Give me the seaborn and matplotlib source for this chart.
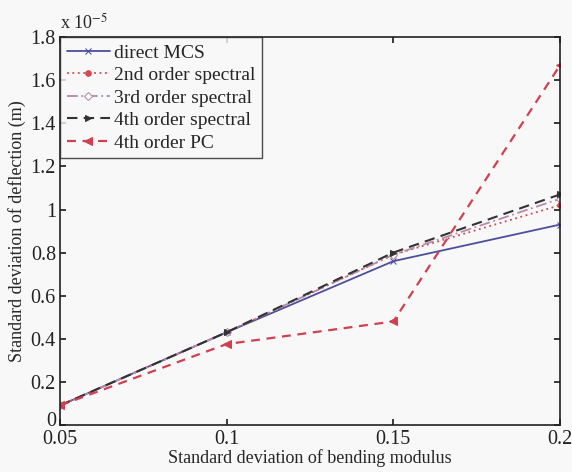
import matplotlib
matplotlib.use("Agg")
import matplotlib.pyplot as plt
import matplotlib.transforms as mtransforms
import seaborn as sns
import pandas as pd

sns.set_theme(style="white")
plt.rcParams['font.family'] = ['Liberation Serif', 'DejaVu Serif']
plt.rcParams['mathtext.fontset'] = 'stix'

x_vals = [0.05, 0.1, 0.15, 0.2]
direct_mcs = [0.09, 0.43, 0.76, 0.93]
second_order = [0.09, 0.43, 0.79, 1.02]
third_order = [0.09, 0.43, 0.79, 1.05]
fourth_order = [0.09, 0.43, 0.80, 1.07]
fourth_pc = [0.09, 0.375, 0.48, 1.67]

series_names = ["direct MCS", "2nd order spectral", "3rd order spectral",
                "4th order spectral", "4th order PC"]
series_values = [direct_mcs, second_order, third_order, fourth_order, fourth_pc]

styles = [
    dict(color="#4b4f9c", ls="-", marker="x", ms=4, mfc="#4b4f9c", lw=1.3),
    dict(color="#d04a50", ls=(0, (1, 2)), marker="o", ms=4, mfc="#d04a50", lw=1.3),
    dict(color="#b58aae", ls=(0, (6, 2, 1, 2)), marker="D", ms=4, mfc="white", lw=1.3),
    dict(color="#333333", ls=(0, (5, 3)), marker=">", ms=5, mfc="#333333", lw=1.5),
    dict(color="#d0404f", ls=(0, (4, 3)), marker="<", ms=6, mfc="#d0404f", lw=1.6),
]

fig = plt.figure(figsize=(5.72, 4.72), dpi=100)
fig.patch.set_facecolor("#f8f8f8")
ax = fig.add_axes([0.105, 0.10, 0.874, 0.821])
ax.set_facecolor("#f8f8f8")

for name, vals, st in zip(series_names, series_values, styles):
    df = pd.DataFrame({"x": x_vals, "y": vals})
    sns.lineplot(data=df, x="x", y="y", ax=ax, label=name, color=st["color"],
                 linestyle=st["ls"], marker=st["marker"], markersize=st["ms"],
                 markerfacecolor=st["mfc"], markeredgecolor=st["color"],
                 linewidth=st["lw"])

ax.set_xlim(0.05, 0.2)
ax.set_ylim(0, 1.8)
ax.set_xticks([0.05, 0.1, 0.15, 0.2])
ax.set_xticklabels(["0.05", "0.1", "0.15", "0.2"])
ax.set_yticks([0, 0.2, 0.4, 0.6, 0.8, 1.0, 1.2, 1.4, 1.6, 1.8])
ax.set_yticklabels(["0", "0.2", "0.4", "0.6", "0.8", "1", "1.2", "1.4", "1.6", "1.8"])
ax.tick_params(direction="in", length=4, labelsize=14.5, colors="#222222",
               top=True, right=True, bottom=True, left=True)
ax.tick_params(axis="x", pad=4)
ax.tick_params(axis="y", pad=3)
for sp in ax.spines.values():
    sp.set_color("#222222")
    sp.set_linewidth(1.2)

# nudge the "0" y tick label up slightly so it clears "0.05"
zero_lbl = ax.get_yticklabels()[0]
zero_lbl.set_transform(zero_lbl.get_transform() +
                       mtransforms.ScaledTranslation(0, 4 / 72, fig.dpi_scale_trans))

ax.set_xlabel("Standard deviation of bending modulus", fontsize=13, labelpad=0)
ax.set_ylabel("Standard deviation of deflection (m)", fontsize=13, labelpad=3)
ax.text(0.0, 1.012, r"x 10$^{-5}$", transform=ax.transAxes, fontsize=13,
        ha="left", va="bottom")

leg = ax.legend(loc="upper left", fontsize=14, frameon=True, fancybox=False,
                edgecolor="#222222", handlelength=2.2, handletextpad=0.2,
                borderpad=0.35, labelspacing=0.25, borderaxespad=0.0)
leg.get_frame().set_linewidth(1.0)
leg.get_frame().set_facecolor("#f8f8f8")

fig.savefig("out.png", dpi=100, facecolor=fig.get_facecolor())
